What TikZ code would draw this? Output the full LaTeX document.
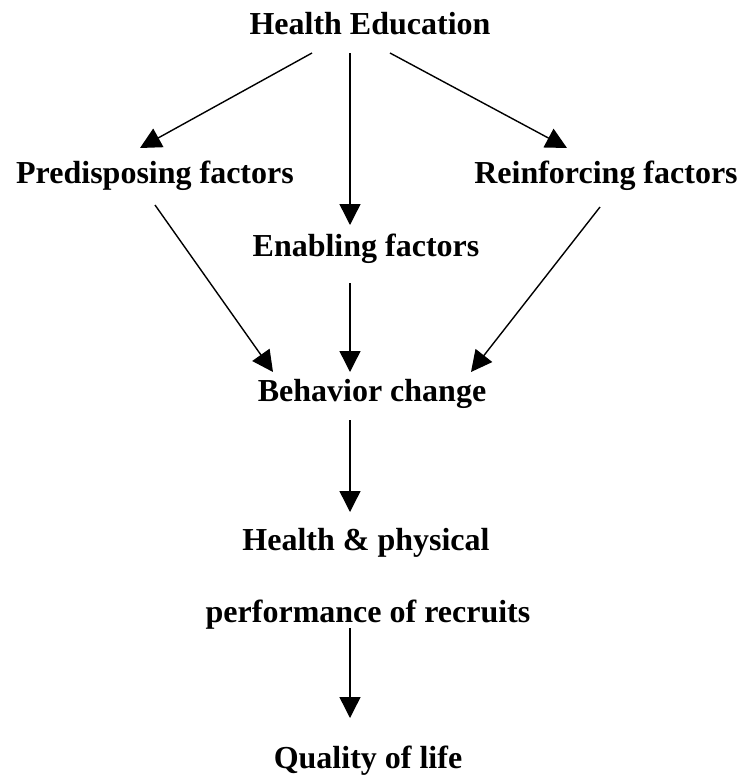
\documentclass[tikz,border=0pt]{standalone}
\usepackage{fontspec}
\setmainfont{Liberation Serif}
\usetikzlibrary{arrows.meta}

\tikzset{
  lbl/.style={anchor=base, inner sep=0pt, font=\fontsize{32}{36}\selectfont\bfseries},
  arr/.style={line width=1.4pt, -{Triangle[length=21pt,width=21pt]}}
}

\begin{document}
\begin{tikzpicture}[x=1pt, y=-1pt]
\useasboundingbox (0,0) rectangle (742,777);

\node[lbl] (he)  at (370, 34) {Health Education};
\node[lbl] (pre) at (155, 183) {Predisposing factors};
\node[lbl] (rei) at (606, 183) {Reinforcing factors};
\node[lbl] (ena) at (366, 256) {Enabling factors};
\node[lbl] (beh) at (372, 401) {Behavior change};
\node[lbl] (hea) at (366, 550) {Health \& physical};
\node[lbl] (per) at (368, 622) {performance of recruits};
\node[lbl] (qua) at (368, 768) {Quality of life};

\draw[arr] ([xshift=-58pt,yshift=-19pt]he.base) -- ([xshift=-15pt,yshift=35pt]pre.base);
\draw[arr] ([xshift=-20pt,yshift=-19pt]he.base) -- ([xshift=-16pt,yshift=31pt]ena.base);
\draw[arr] ([xshift=20pt,yshift=-19pt]he.base) -- ([xshift=-39pt,yshift=35pt]rei.base);

\draw[arr] ([xshift=0pt,yshift=-22pt]pre.base) -- ([xshift=-99pt,yshift=29pt]beh.base);
\draw[arr] ([xshift=-16pt,yshift=-27pt]ena.base) -- ([xshift=-22pt,yshift=29pt]beh.base);
\draw[arr] ([xshift=-6pt,yshift=-24pt]rei.base) -- ([xshift=99pt,yshift=29pt]beh.base);

\draw[arr] ([xshift=-22pt,yshift=-19pt]beh.base) -- ([xshift=-16pt,yshift=38pt]hea.base);
\draw[arr] ([xshift=-18pt,yshift=-6pt]per.base) -- ([xshift=-18pt,yshift=50pt]qua.base);
\end{tikzpicture}
\end{document}
